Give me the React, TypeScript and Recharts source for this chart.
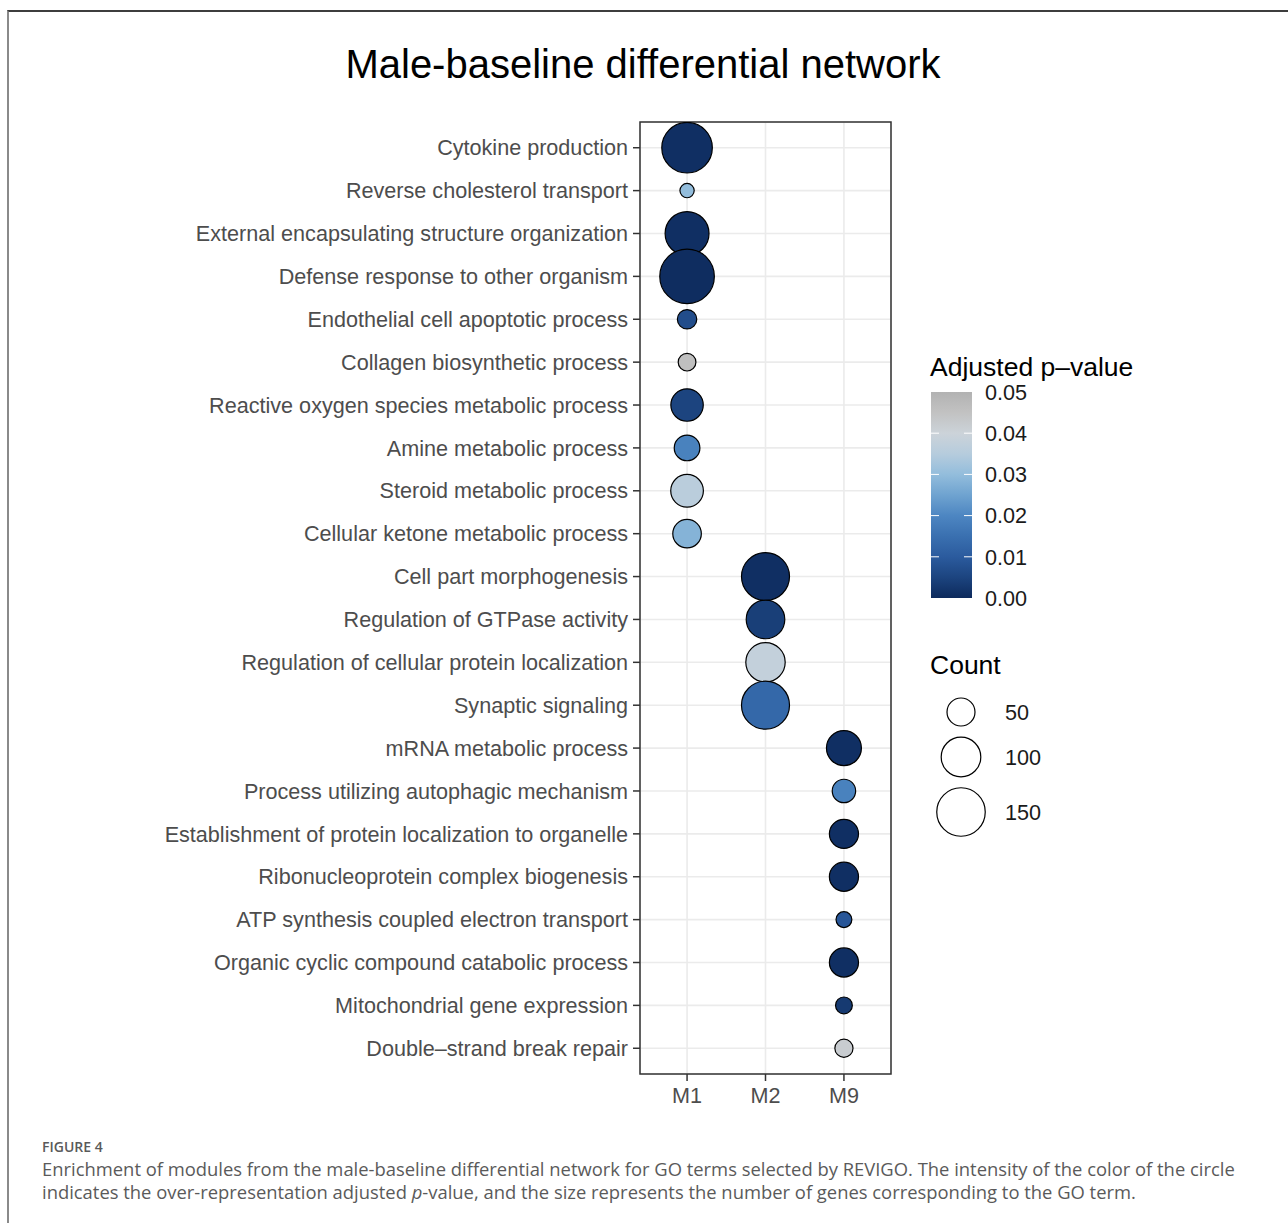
import React from 'react';
import { ScatterChart, Scatter, XAxis, YAxis, ZAxis, CartesianGrid, Cell, ReferenceArea } from 'recharts';

const terms = [
  'Cytokine production',
  'Reverse cholesterol transport',
  'External encapsulating structure organization',
  'Defense response to other organism',
  'Endothelial cell apoptotic process',
  'Collagen biosynthetic process',
  'Reactive oxygen species metabolic process',
  'Amine metabolic process',
  'Steroid metabolic process',
  'Cellular ketone metabolic process',
  'Cell part morphogenesis',
  'Regulation of GTPase activity',
  'Regulation of cellular protein localization',
  'Synaptic signaling',
  'mRNA metabolic process',
  'Process utilizing autophagic mechanism',
  'Establishment of protein localization to organelle',
  'Ribonucleoprotein complex biogenesis',
  'ATP synthesis coupled electron transport',
  'Organic cyclic compound catabolic process',
  'Mitochondrial gene expression',
  'Double\u2013strand break repair',
];
const modules = ['M1', 'M2', 'M9'];
const termModule = [1, 1, 1, 1, 1, 1, 1, 1, 1, 1, 2, 2, 2, 2, 3, 3, 3, 3, 3, 3, 3, 3];
const counts = [163, 13, 123, 190, 24, 20, 67, 42, 68, 52, 147, 95, 99, 147, 78, 35, 54, 54, 16, 54, 18, 21];
const pvals = [0.001, 0.03, 0.001, 0.0005, 0.007, 0.046, 0.005, 0.019, 0.036, 0.028, 0.001, 0.004, 0.038, 0.013, 0.001, 0.019, 0.001, 0.001, 0.009, 0.001, 0.003, 0.042];
const colorTicks = [0, 0.01, 0.02, 0.03, 0.04, 0.05];
const countTicks = [50, 100, 150];

const colorStops: [number, string][] = [
  [0, '#0D2A5C'],
  [0.005, '#1C447F'],
  [0.01, '#2B5B9E'],
  [0.015, '#3A70B0'],
  [0.02, '#4D86C2'],
  [0.025, '#6FA3D0'],
  [0.03, '#93BDDC'],
  [0.035, '#B6CCDD'],
  [0.04, '#CCD3D9'],
  [0.045, '#C2C2C2'],
  [0.05, '#B2B2B2'],
];

function hex(c: string) {
  return [1, 3, 5].map((i) => parseInt(c.slice(i, i + 2), 16));
}
function pColor(p: number) {
  for (let i = 0; i < colorStops.length - 1; i++) {
    const [a, ca] = colorStops[i];
    const [b, cb] = colorStops[i + 1];
    if (p <= b) {
      const t = Math.max(0, (p - a) / (b - a));
      const A = hex(ca), B = hex(cb);
      const m = A.map((v, k) => Math.round(v + (B[k] - v) * t));
      return `rgb(${m[0]},${m[1]},${m[2]})`;
    }
  }
  return colorStops[colorStops.length - 1][1];
}

const Z_MAX = 200;
const AREA_MAX = Math.PI * 28 * 28;
const radiusFor = (c: number) => Math.sqrt(((c / Z_MAX) * AREA_MAX) / Math.PI);

const data = terms.map((t, i) => ({ x: termModule[i], y: i + 1, z: counts[i], p: pvals[i], term: t }));

const FONT = '"Liberation Sans", Arial, Helvetica, sans-serif';

export default function App() {
  const barX = 931, barW = 41, barTop = 392, barBot = 598;
  const yOf = (p: number) => barBot - (p / 0.05) * (barBot - barTop);
  const countY = [712, 757, 812];
  return (
    <div style={{ position: 'absolute', left: 0, top: 0, width: 1288, height: 1223, overflow: 'hidden', background: '#fff', fontFamily: FONT }}>
      <div style={{ position: 'absolute', left: 7, top: 10, width: 1400, height: 1400, borderTop: '2px solid #3d3d3d', borderLeft: '2px solid #8a8a8a' }} />
      <div style={{ position: 'absolute', left: 0, top: 0 }}>
        <ScatterChart width={1288} height={1223} margin={{ top: 122, right: 397, bottom: 109, left: 0 }}>
          <CartesianGrid stroke="#EBEBEB" strokeWidth={1.6} />
          <XAxis
            type="number"
            dataKey="x"
            domain={[0.4, 3.6]}
            ticks={[1, 2, 3]}
            tickFormatter={(v: number) => modules[v - 1]}
            axisLine={false}
            tickSize={7}
            tickMargin={7}
            height={40}
            tickLine={{ stroke: '#333', strokeWidth: 1.5 }}
            tick={{ fontSize: 21.6, fill: '#4D4D4D', fontFamily: FONT }}
            allowDataOverflow
          />
          <YAxis
            type="number"
            dataKey="y"
            domain={[0.4, 22.6]}
            ticks={terms.map((_, i) => i + 1)}
            interval={0}
            reversed
            tickFormatter={(v: number) => terms[v - 1]}
            axisLine={false}
            width={640}
            tickSize={7}
            tickMargin={5}
            tickLine={{ stroke: '#333', strokeWidth: 1.5 }}
            tick={{ fontSize: 21.6, fill: '#4D4D4D', fontFamily: FONT }}
            allowDataOverflow
          />
          <ZAxis type="number" dataKey="z" domain={[0, Z_MAX]} range={[0, AREA_MAX]} />
          <ReferenceArea x1={0.4} x2={3.6} y1={0.4} y2={22.6} fill="none" fillOpacity={0} stroke="#333" strokeWidth={1.5} />
          <Scatter data={data} isAnimationActive={false} stroke="#000" strokeWidth={1.2}>
            {data.map((d, i) => (
              <Cell key={i} fill={pColor(d.p)} />
            ))}
          </Scatter>
        </ScatterChart>
      </div>
      <svg width={1288} height={1223} style={{ position: 'absolute', left: 0, top: 0, pointerEvents: 'none' }}>
        <defs>
          <linearGradient id="pgrad" x1="0" y1="1" x2="0" y2="0">
            {colorStops.map(([p, c], i) => (
              <stop key={i} offset={p / 0.05} stopColor={c} />
            ))}
          </linearGradient>
        </defs>
        <text x={643} y={78} textAnchor="middle" fontSize={40} fill="#000" fontFamily={FONT}>
          Male-baseline differential network
        </text>
        <text x={930} y={376} fontSize={26.5} fill="#000" fontFamily={FONT}>
          Adjusted p{'\u2013'}value
        </text>
        <rect x={barX} y={barTop} width={barW} height={barBot - barTop} fill="url(#pgrad)" />
        {colorTicks.map((p, i) => (
          <g key={i}>
            {p > 0 && p < 0.05 && (
              <>
                <line x1={barX} x2={barX + 8} y1={yOf(p)} y2={yOf(p)} stroke="#fff" strokeWidth={1} />
                <line x1={barX + barW - 8} x2={barX + barW} y1={yOf(p)} y2={yOf(p)} stroke="#fff" strokeWidth={1} />
              </>
            )}
            <text x={985} y={yOf(p) + 7.7} fontSize={21.6} fill="#1a1a1a" fontFamily={FONT}>
              {p.toFixed(2)}
            </text>
          </g>
        ))}
        <text x={930} y={674} fontSize={26.5} fill="#000" fontFamily={FONT}>
          Count
        </text>
        {countTicks.map((c, i) => (
          <g key={i}>
            <circle cx={961} cy={countY[i]} r={radiusFor(c)} fill="#fff" stroke="#000" strokeWidth={1.2} />
            <text x={1005} y={countY[i] + 7.7} fontSize={21.6} fill="#1a1a1a" fontFamily={FONT}>
              {c}
            </text>
          </g>
        ))}
      </svg>
      <div style={{ position: 'absolute', left: 42, top: 1137, fontFamily: '"Open Sans", sans-serif', fontSize: 14, fontWeight: 600, color: '#5a5a5a', whiteSpace: 'nowrap' }}>
        FIGURE 4
      </div>
      <div style={{ position: 'absolute', left: 42, top: 1157, fontFamily: '"Open Sans", sans-serif', fontSize: 18.4, lineHeight: '23px', color: '#5a5a5a', whiteSpace: 'nowrap' }}>
        <div>Enrichment of modules from the male-baseline differential network for GO terms selected by REVIGO. The intensity of the color of the circle</div>
        <div>
          indicates the over-representation adjusted <i>p</i>-value, and the size represents the number of genes corresponding to the GO term.
        </div>
      </div>
    </div>
  );
}
